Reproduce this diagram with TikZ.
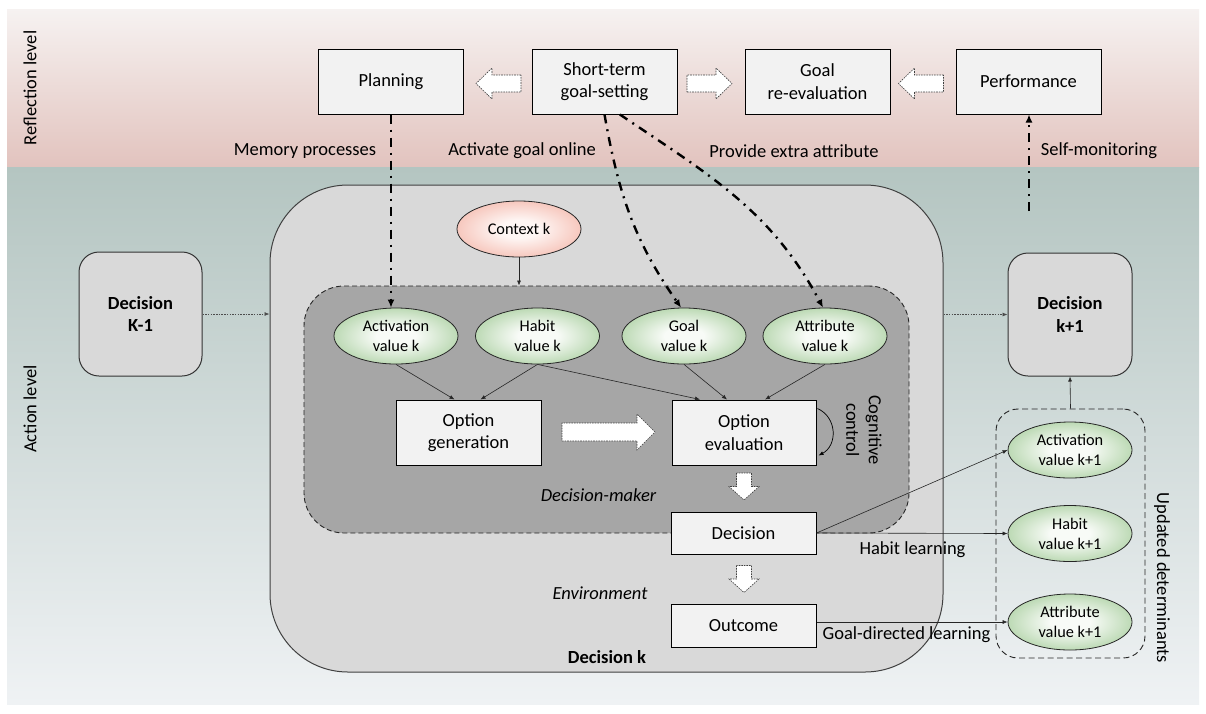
\documentclass[tikz,border=0pt]{standalone}
\usepackage{fontspec}
\setmainfont{Carlito}
\usetikzlibrary{arrows.meta,calc,shapes.geometric}

\definecolor{pinktop}{RGB}{246,242,241}
\definecolor{pinkbot}{RGB}{226,195,190}
\definecolor{tealtop}{RGB}{180,197,193}
\definecolor{tealbot}{RGB}{239,242,244}
\definecolor{panelgray}{RGB}{217,217,217}
\definecolor{dmgray}{RGB}{166,166,166}
\definecolor{boxfill}{RGB}{242,242,242}
\definecolor{greenedge}{RGB}{150,196,138}
\definecolor{greencore}{RGB}{248,251,247}
\definecolor{salmonedge}{RGB}{242,170,155}
\definecolor{salmoncore}{RGB}{254,246,244}

% soft radial fills for the value and context ellipses
\pgfdeclareradialshading{valshade}{\pgfpoint{0bp}{0bp}}{color(0bp)=(greencore); color(8bp)=(greencore); color(36bp)=(greenedge); color(50bp)=(greenedge)}
\pgfdeclareradialshading{ctxshade}{\pgfpoint{0bp}{0bp}}{color(0bp)=(salmoncore); color(8bp)=(salmoncore); color(36bp)=(salmonedge); color(50bp)=(salmonedge)}

\newcommand\txtbig{\fontsize{18.5pt}{22.5pt}\selectfont}
\newcommand\txtsmall{\fontsize{16.3pt}{20pt}\selectfont}

\begin{document}
\begin{tikzpicture}[x=1pt,y=1pt,
  every node/.style={inner sep=0pt, align=center, font=\txtbig},
  box/.style={draw=black, line width=1pt, fill=boxfill, minimum width=145pt, minimum height=65pt},
  smallbox/.style={box, minimum height=42pt},
  decbox/.style={draw=black!80, line width=1pt, fill=panelgray, rounded corners=20pt,
    minimum width=124pt, minimum height=124pt, font=\txtbig\bfseries},
  valell/.style={ellipse, draw=black!85, line width=0.8pt, minimum width=124pt, minimum height=56pt,
    shade, shading=valshade, font=\txtsmall},
  ctxell/.style={valell, shading=ctxshade},
  thinarr/.style={line width=0.6pt, draw=black!85, -{Latex[length=5pt,width=4pt]}},
  dotarr/.style={line width=0.7pt, draw=black!70, dash pattern=on 1.5pt off 1.2pt, -{Latex[length=5pt,width=4pt]}},
  ddarr/.style={line width=2.4pt, dash pattern=on 9pt off 6pt on 2pt off 6pt, -{Latex[length=8pt,width=7pt]}},
  blk/.style={draw=black!75, line width=0.6pt, dash pattern=on 1.6pt off 1pt, fill=white},
  pics/toparr/.style={code={\draw[blk] (-22.5,-8.5) -- (6.5,-8.5) -- (6.5,-15.5) -- (22.5,0) -- (6.5,15.5) -- (6.5,8.5) -- (-22.5,8.5) -- cycle;}},
  pics/bigarr/.style={code={\draw[blk] (-46.5,-9) -- (28.5,-9) -- (28.5,-18) -- (46.5,0) -- (28.5,18) -- (28.5,9) -- (-46.5,9) -- cycle;}},
  pics/downarr/.style={code={\draw[blk] (-13.5,-7.5) -- (0,-7.5) -- (0,-15) -- (13.5,0) -- (0,15) -- (0,7.5) -- (-13.5,7.5) -- cycle;}}
]
\useasboundingbox (0,0) rectangle (1206,-713);
\fill[white] (0,0) rectangle (1206,-713);

% the two levels
\shade[top color=pinktop, bottom color=pinkbot] (7,-9) rectangle (1199,-167);
\shade[top color=tealtop, bottom color=tealbot] (7,-167) rectangle (1199,-704);
\node[rotate=90] (lvlrefl) at (30,-88) {Reflection level};
\node[rotate=90] (lvlact) at (30,-409) {Action level};

% reflection level boxes
\node[box] (plan) at (391,-81.5) {Planning};
\node[box] (short) at (604.5,-81.5) {Short-term\\goal-setting};
\node[box] (reeval) at (817.5,-81.5) {Goal\\re-evaluation};
\node[box] (perf) at (1028.5,-81.5) {Performance};
\pic[rotate=180] at (498.5,-83.5) {toparr};
\pic at (709.5,-83.5) {toparr};
\pic[rotate=180] at (921,-83.5) {toparr};

\node (lblmem) at (305,-151) {Memory processes};
\node (lblact) at (522,-151) {Activate goal online};
\node (lblprov) at (794,-151) {Provide extra attribute};
\node (lblself) at (1099,-151) {Self-monitoring};

% decision k panel
\node[draw=black!75, line width=1pt, fill=panelgray, rounded corners=78pt,
  minimum width=673pt, minimum height=487pt] (dk) at (606.5,-428.5) {};
\node[draw=black!85, line width=0.9pt, fill=dmgray, rounded corners=40pt, dash pattern=on 5pt off 3pt,
  minimum width=605pt, minimum height=247pt] (dm) at (606.5,-409.5) {};

\node[ctxell] (ctx) at (519,-229) {Context k};
\node[valell] (actv) at (396,-336) {Activation\\value k};
\node[valell] (habv) at (537.5,-336) {Habit\\value k};
\node[valell] (goalv) at (684,-336) {Goal\\value k};
\node[valell] (attv) at (825,-336) {Attribute\\value k};

\node[box] (og) at (468.5,-432.5) {Option\\generation};
\node[box, minimum width=144pt] (oe) at (744,-432.5) {Option\\evaluation};
\node[smallbox] (dec) at (743.5,-533) {Decision};
\node[smallbox, minimum height=43pt] (outc) at (743.5,-625.5) {Outcome};
\pic at (608.5,-432) {bigarr};
\pic[rotate=-90] at (744,-486.5) {downarr};
\pic[rotate=-90] at (744,-579) {downarr};

\node[font=\txtbig\itshape] (lbldm) at (598.5,-495) {Decision-maker};
\node[font=\txtbig\itshape] (lblenv) at (600,-593) {Environment};
\node[font=\txtbig\bfseries] (lbldk) at (607,-657) {Decision k};
\node[rotate=-90] (lblcc) at (864,-430) {Cognitive\\control};

% neighbouring decisions
\node[decbox, minimum height=124pt, minimum width=123pt] (dkm1) at (140.5,-314) {Decision\\K-1};
\node[decbox, minimum height=123pt] (dkp1) at (1070,-314.5) {Decision\\k+1};

% updated determinants
\node[draw=black!85, line width=0.9pt, rounded corners=22pt, dash pattern=on 6pt off 3.5pt,
  minimum width=149pt, minimum height=249pt] (upd) at (1070.5,-533.5) {};
\node[valell] (actn) at (1070,-450) {Activation\\value k+1};
\node[valell] (habn) at (1070,-533.5) {Habit\\value k+1};
\node[valell] (attn) at (1070,-622) {Attribute\\value k+1};
\node[rotate=-90] (lblupd) at (1162,-578) {Updated determinants};

\node (lblhab) at (912.5,-550) {Habit learning};
\node (lblgoal) at (906.5,-635) {Goal-directed learning};

% connectors
\draw[dotarr] (dkm1.east) -- (dkm1.east -| dk.west);
\draw[dotarr] (dk.east |- dkp1.west) -- (dkp1.west);
\draw[thinarr] (ctx.south) -- (ctx.south |- dm.north);

\draw[ddarr] (plan.south) -- (plan.south |- actv.north);
\draw[ddarr] (short.south) to[out=-80, in=125] ($(goalv.north)+(-3,0)$);
\draw[ddarr] (short.-65) to[out=-34, in=118] ($(attv.north)+(-2,0)$);
\coordinate (smfoot) at (1029,-211);
\draw[ddarr] (smfoot) -- (smfoot |- perf.south);

\draw[thinarr] (actv.south) -- ($(og.north)+(-14,0)$);
\draw[thinarr] (habv.south) -- ($(og.north)+(12,0)$);
\draw[thinarr] (habv.south) -- ($(oe.north)+(-44,0)$);
\draw[thinarr] (goalv.south) -- ($(oe.north)+(-17,0)$);
\draw[thinarr] (attv.south) -- ($(oe.north)+(21,0)$);

\draw[line width=0.7pt, -{Latex[length=5pt,width=4pt]}] ($(oe.north east)+(1,-9)$)
  .. controls ($(oe.north east)+(21,-18)$) and ($(oe.north east)+(21,-46)$) .. ($(oe.south east)+(2,10)$);

\draw[thinarr] (dec.east) -- (actn.west);
\draw[thinarr] (dec.east) -- (habn.west);
\draw[thinarr] (outc.east |- attn.west) -- (attn.west);
\draw[thinarr] (upd.north) -- (dkp1.south);
\end{tikzpicture}
\end{document}
